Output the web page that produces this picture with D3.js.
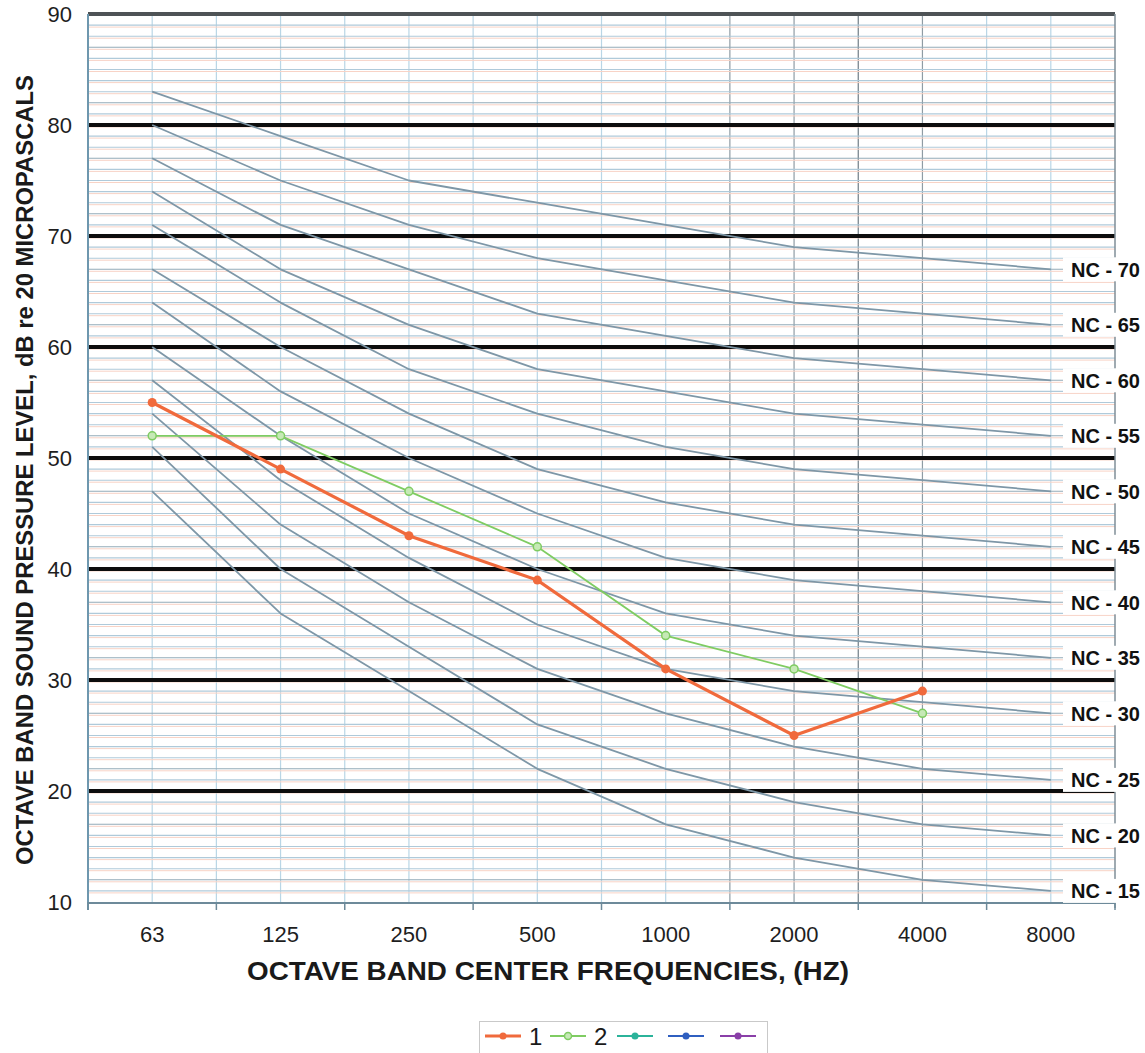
<!DOCTYPE html>
<html>
<head>
<meta charset="utf-8">
<script src="https://cdn.jsdelivr.net/npm/d3@7"></script>
<style>
  html, body { margin: 0; padding: 0; background: #fff; }
  svg { display: block; font-family: "Liberation Sans", Arial, sans-serif; }
</style>
</head>
<body>
<div id="chart"></div>
<script>
// categories (octave band centre frequencies)
const bands = ["63", "125", "250", "500", "1000", "2000", "4000", "8000"];

// NC curves, dB per band
const ncNames = ["NC - 15", "NC - 20", "NC - 25", "NC - 30", "NC - 35", "NC - 40",
                 "NC - 45", "NC - 50", "NC - 55", "NC - 60", "NC - 65", "NC - 70"];
const ncValues = [
    [47, 36, 29, 22, 17, 14, 12, 11],
    [51, 40, 33, 26, 22, 19, 17, 16],
    [54, 44, 37, 31, 27, 24, 22, 21],
    [57, 48, 41, 35, 31, 29, 28, 27],
    [60, 52, 45, 40, 36, 34, 33, 32],
    [64, 56, 50, 45, 41, 39, 38, 37],
    [67, 60, 54, 49, 46, 44, 43, 42],
    [71, 64, 58, 54, 51, 49, 48, 47],
    [74, 67, 62, 58, 56, 54, 53, 52],
    [77, 71, 67, 63, 61, 59, 58, 57],
    [80, 75, 71, 68, 66, 64, 63, 62],
    [83, 79, 75, 73, 71, 69, 68, 67]
];

// measured series (no value at 8000)
const series1 = [55, 49, 43, 39, 31, 25, 29];
const series2 = [52, 52, 47, 42, 34, 31, 27];

// legend entries
const legendNames = ["1", "2", "", "", ""];
const legendColors = ["#f06a3c", "#7fcc62", "#2bb39a", "#2f5fc0", "#8a3fa8"];

const yTicks = [10, 20, 30, 40, 50, 60, 70, 80, 90];

const width = 1145, height = 1053;
const plotL = 88, plotR = 1115, plotT = 14, plotB = 902;

const svg = d3.select('#chart')
    .append('svg')
    .attr('width', width)
    .attr('height', height);

const x = d3.scaleBand().domain(bands).range([plotL, plotR]).padding(0);
const y = d3.scaleLinear().domain([10, 90]).range([plotB, plotT]);
const cx = d => x(d) + x.bandwidth() / 2;

// vertical grid: band edges and centres
const edges = d3.range(bands.length + 1).map(i => plotL + i * x.bandwidth());
const vLines = [];
edges.forEach((e, i) => vLines.push({pos: e, kind: 'edge', i: i}));
bands.forEach((b, i) => vLines.push({pos: cx(b), kind: 'mid', i: i}));
const darkV = d => d.i === 5 || d.i === 6;

svg.append('g').selectAll('line')
    .data(vLines.filter(d => d.pos > plotL + 1 && d.pos < plotR - 1))
    .join('line')
    .attr('x1', d => d.pos).attr('x2', d => d.pos)
    .attr('y1', plotT).attr('y2', plotB)
    .attr('stroke', d => darkV(d) ? (d.kind === 'edge' && d.i === 6 ? '#6f7d86' : '#8f9ca4') : '#b9d6e6')
    .attr('stroke-width', 1.2);

// horizontal minor grid every 1 dB (blue, with a salmon ghost line beside it)
const minor = d3.range(11, 90);
svg.append('g').selectAll('line')
    .data(minor)
    .join('line')
    .attr('x1', plotL).attr('x2', plotR)
    .attr('y1', d => y(d) + 2).attr('y2', d => y(d) + 2)
    .attr('stroke', '#f8d3c6')
    .attr('stroke-width', 1);
svg.append('g').selectAll('line')
    .data(minor)
    .join('line')
    .attr('x1', plotL).attr('x2', plotR)
    .attr('y1', d => y(d)).attr('y2', d => y(d))
    .attr('stroke', d => (d % 5 === 2) ? '#93abb9' : '#afcada')
    .attr('stroke-width', 1.1);

// thick decade lines
svg.append('g').selectAll('line')
    .data(yTicks.filter(d => d > 10 && d < 90))
    .join('line')
    .attr('x1', plotL).attr('x2', plotR)
    .attr('y1', d => y(d)).attr('y2', d => y(d))
    .attr('stroke', '#0d0d0d')
    .attr('stroke-width', 4);

// top border at 90
svg.append('line')
    .attr('x1', plotL).attr('x2', plotR)
    .attr('y1', y(90)).attr('y2', y(90))
    .attr('stroke', '#4e5356').attr('stroke-width', 4);

// right border
svg.append('line')
    .attr('x1', plotR).attr('x2', plotR)
    .attr('y1', plotT).attr('y2', plotB + 6)
    .attr('stroke', '#7f8e97').attr('stroke-width', 1.5);

// left axis
svg.append('line')
    .attr('x1', plotL).attr('x2', plotL)
    .attr('y1', plotT).attr('y2', plotB + 8)
    .attr('stroke', '#6e97ae').attr('stroke-width', 2);

// bottom axis with ticks at band edges
svg.append('line')
    .attr('x1', plotL).attr('x2', plotR)
    .attr('y1', plotB + 1).attr('y2', plotB + 1)
    .attr('stroke', '#6d8a9a').attr('stroke-width', 2);
svg.append('g').selectAll('line')
    .data(edges)
    .join('line')
    .attr('x1', d => d).attr('x2', d => d)
    .attr('y1', plotB).attr('y2', plotB + 8)
    .attr('stroke', '#6d8a9a').attr('stroke-width', 1.5);

// y tick labels
svg.append('g').selectAll('text')
    .data(yTicks)
    .join('text')
    .attr('x', 72)
    .attr('y', d => y(d) + 8)
    .attr('text-anchor', 'end')
    .attr('font-size', 22)
    .attr('fill', '#1e1e1e')
    .text(d => d);

// x tick labels
svg.append('g').selectAll('text')
    .data(bands)
    .join('text')
    .attr('x', d => cx(d))
    .attr('y', 942)
    .attr('text-anchor', 'middle')
    .attr('font-size', 22)
    .attr('fill', '#1e1e1e')
    .text(d => d);

// axis titles
svg.append('text')
    .attr('x', 548).attr('y', 980)
    .attr('text-anchor', 'middle')
    .attr('font-size', 26).attr('font-weight', 'bold')
    .attr('fill', '#1a1a1a')
    .attr('textLength', 602).attr('lengthAdjust', 'spacingAndGlyphs')
    .text('OCTAVE BAND CENTER FREQUENCIES, (HZ)');

svg.append('text')
    .attr('transform', 'translate(33,470) rotate(-90)')
    .attr('text-anchor', 'middle')
    .attr('font-size', 23).attr('font-weight', 'bold')
    .attr('fill', '#1a1a1a')
    .attr('textLength', 790).attr('lengthAdjust', 'spacingAndGlyphs')
    .text('OCTAVE BAND SOUND PRESSURE LEVEL, dB re 20 MICROPASCALS');

// NC curves
const ncLine = d3.line()
    .x((d, i) => cx(bands[i]))
    .y(d => y(d));

svg.append('g').selectAll('path')
    .data(ncValues)
    .join('path')
    .attr('d', d => ncLine(d))
    .attr('fill', 'none')
    .attr('stroke', '#7e97a7')
    .attr('stroke-width', 1.8)
    .attr('stroke-linejoin', 'round');

// NC labels on white patches at the right end of each curve
const ncLab = svg.append('g').selectAll('g')
    .data(ncNames)
    .join('g')
    .attr('transform', (d, i) => `translate(0,${y(ncValues[i][bands.length - 1])})`);
ncLab.append('rect')
    .attr('x', 1063).attr('y', -12)
    .attr('width', 80).attr('height', 24)
    .attr('fill', '#fff');
ncLab.append('text')
    .attr('x', 1071)
    .attr('y', 7.5)
    .attr('font-size', 20).attr('font-weight', 'bold')
    .attr('fill', '#111')
    .text(d => d);

// measured series
const sLine = d3.line()
    .x((d, i) => cx(bands[i]))
    .y(d => y(d));

svg.append('path')
    .attr('d', sLine(series2))
    .attr('fill', 'none')
    .attr('stroke', legendColors[1])
    .attr('stroke-width', 1.8);
svg.append('g').selectAll('circle')
    .data(series2)
    .join('circle')
    .attr('cx', (d, i) => cx(bands[i]))
    .attr('cy', d => y(d))
    .attr('r', 4)
    .attr('fill', '#c6e9b6')
    .attr('stroke', legendColors[1])
    .attr('stroke-width', 1.5);

svg.append('path')
    .attr('d', sLine(series1))
    .attr('fill', 'none')
    .attr('stroke', legendColors[0])
    .attr('stroke-width', 3.2);
svg.append('g').selectAll('circle')
    .data(series1)
    .join('circle')
    .attr('cx', (d, i) => cx(bands[i]))
    .attr('cy', d => y(d))
    .attr('r', 4.5)
    .attr('fill', legendColors[0]);

// legend
const legend = svg.append('g');
legend.append('rect')
    .attr('x', 479.5).attr('y', 1021.5)
    .attr('width', 288).attr('height', 40)
    .attr('fill', '#fff')
    .attr('stroke', '#c9c9c9');

const legendStarts = [485, 550, 617, 668, 720];
legendNames.forEach((name, i) => {
    const x0 = legendStarts[i];
    legend.append('line')
        .attr('x1', x0).attr('x2', x0 + 36)
        .attr('y1', 1036).attr('y2', 1036)
        .attr('stroke', legendColors[i])
        .attr('stroke-width', i === 0 ? 3 : 2);
    legend.append('circle')
        .attr('cx', x0 + 18).attr('cy', 1036)
        .attr('r', 3.5)
        .attr('fill', i === 1 ? '#c6e9b6' : legendColors[i])
        .attr('stroke', legendColors[i])
        .attr('stroke-width', i === 1 ? 1.5 : 0);
    if (name) {
        legend.append('text')
            .attr('x', x0 + 44).attr('y', 1045)
            .attr('font-size', 24)
            .attr('fill', '#1a1a1a')
            .text(name);
    }
});
</script>
</body>
</html>
